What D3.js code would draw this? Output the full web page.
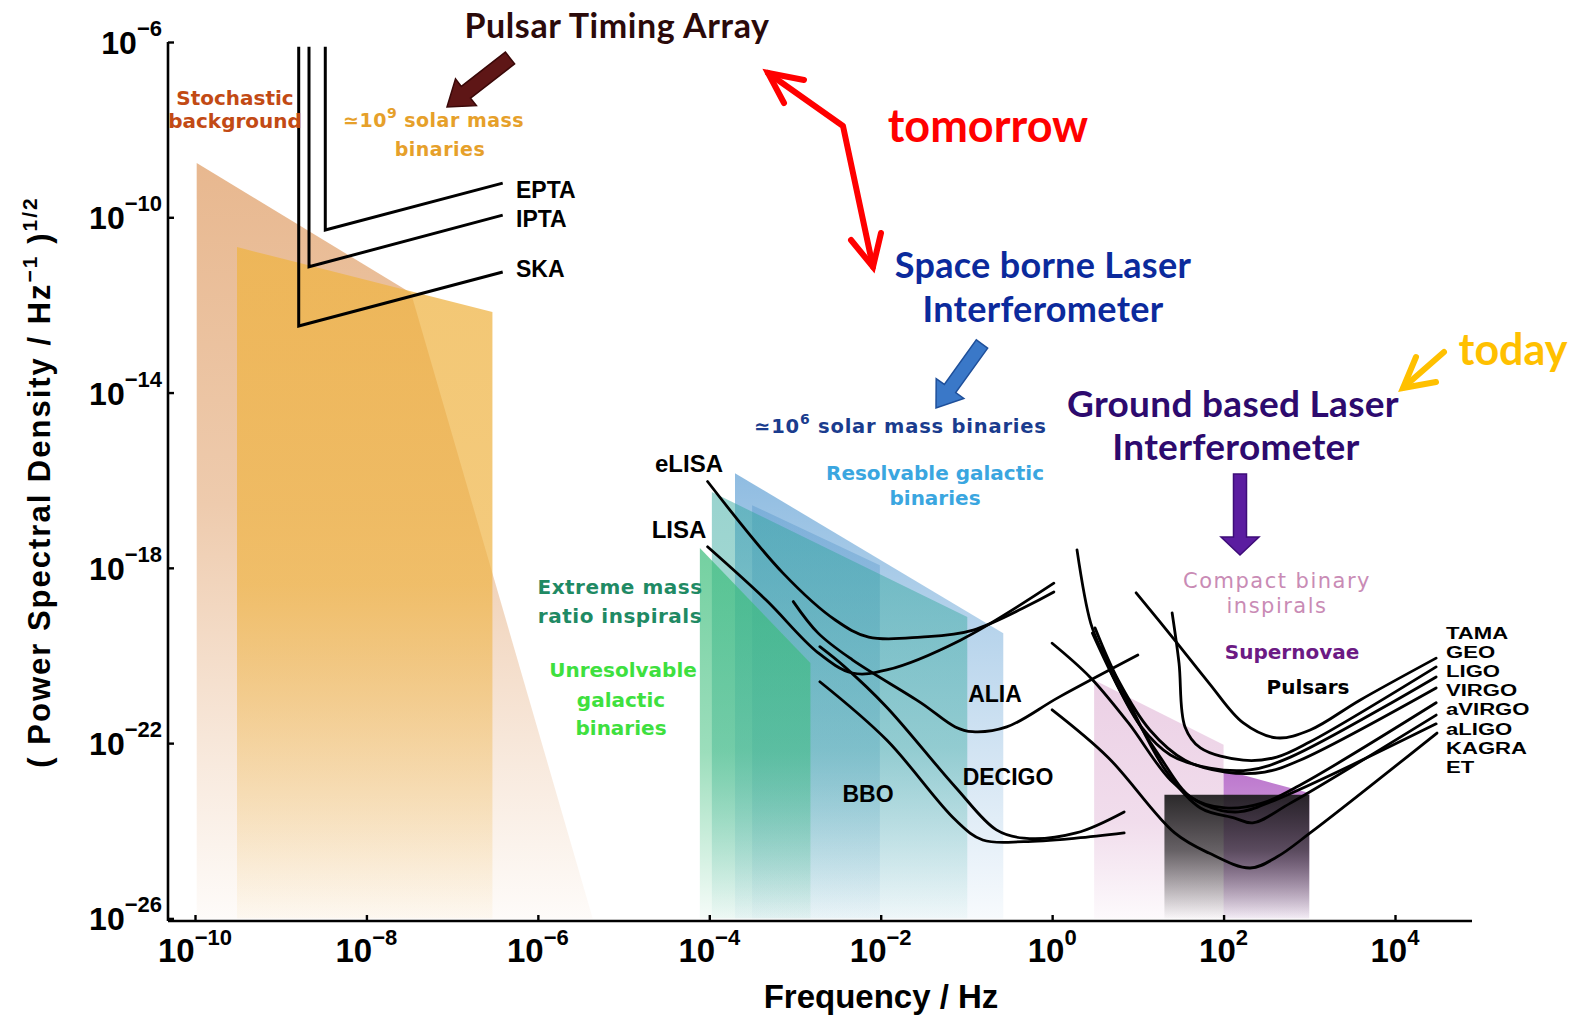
<!DOCTYPE html>
<html>
<head>
<meta charset="utf-8">
<script src="https://cdn.jsdelivr.net/npm/d3@7"></script>
<style>
  html, body { margin: 0; padding: 0; background: #fff; }
  svg { display: block; }
</style>
</head>
<body>
<svg id="chart" width="1579" height="1018"></svg>
<script>
// All values are powers of ten: [log10 frequency (Hz), log10 strain amplitude]
const xTickExps = [-10, -8, -6, -4, -2, 0, 2, 4];
const yTickExps = [-6, -10, -14, -18, -22, -26];

// Source bands
const stochasticBand  = [[-9.98, -8.76], [-7.48, -11.73], [-5.36, -26], [-9.98, -26]];
const smbhBand        = [[-9.51, -10.68], [-6.53, -12.16], [-6.53, -26], [-9.51, -26]];
const resolvableBandA = [[-3.70, -15.84], [-0.57, -19.49], [-0.57, -26], [-3.70, -26]];
const resolvableBandB = [[-3.50, -16.57], [-2.01, -17.94], [-2.01, -26], [-3.50, -26]];
const emriBand        = [[-3.97, -16.27], [-0.99, -19.12], [-0.99, -26], [-3.97, -26]];
const unresolvedBand  = [[-4.11, -17.55], [-2.82, -20.17], [-2.82, -26], [-4.11, -26]];
const compactBand     = [[0.49, -20.56], [2.00, -22.04], [2.00, -26], [0.49, -26]];
const supernovaBand   = [[2.00, -22.61], [3.00, -23.14], [3.00, -26], [2.00, -26]];
const pulsarBand      = [[1.31, -23.18], [3.00, -23.18], [3.00, -26], [1.31, -26]];

// Pulsar timing arrays
const eptaCurve = [[-8.48, -6.11], [-8.48, -10.29], [-6.41, -9.22]];
const iptaCurve = [[-8.67, -6.11], [-8.67, -11.13], [-6.41, -9.95]];
const skaCurve  = [[-8.79, -6.11], [-8.79, -12.48], [-6.41, -11.25]];

// Space interferometers
const elisaCurve  = [[-4.02, -16.03], [-3.14, -18.12], [-2.53, -19.19], [-2.14, -19.58], [-1.53, -19.58], [-0.92, -19.42], [0.02, -18.55]];
const lisaCurve   = [[-4.02, -17.52], [-3.34, -18.73], [-2.73, -19.94], [-2.33, -20.40], [-1.93, -20.33], [-1.07, -19.65], [0.02, -18.35]];
const aliaCurve   = [[-3.02, -18.77], [-2.73, -19.49], [-2.33, -20.10], [-1.53, -21.08], [-1.13, -21.63], [-0.93, -21.74], [-0.53, -21.63], [0.08, -20.95], [1.00, -19.99]];
const decigoCurve = [[-2.71, -19.80], [-2.42, -20.26], [-1.93, -21.18], [-1.13, -23.00], [-0.65, -23.98], [-0.33, -24.17], [0.28, -24.05], [0.84, -23.57]];
const bboCurve    = [[-2.71, -20.60], [-1.93, -21.93], [-1.13, -23.75], [-0.81, -24.21], [-0.33, -24.25], [0.28, -24.17], [0.84, -24.05]];

// Ground interferometers
const tamaCurve   = [[0.98, -18.57], [1.43, -19.65], [1.83, -20.63], [2.23, -21.54], [2.62, -21.88], [3.01, -21.70], [3.59, -21.02], [4.48, -20.06]];
const geoCurve    = [[1.40, -19.03], [1.48, -20.17], [1.55, -21.63], [1.73, -22.11], [2.23, -22.39], [2.62, -22.32], [3.01, -21.97], [4.48, -20.26]];
const ligoCurve   = [[0.29, -17.59], [0.45, -19.26], [0.61, -20.03], [0.77, -20.72], [1.04, -21.63], [1.38, -22.27], [1.84, -22.57], [2.31, -22.61], [2.78, -22.32], [4.48, -20.49]];
const virgoCurve  = [[0.50, -19.37], [0.77, -20.56], [1.14, -21.70], [1.55, -22.39], [2.02, -22.66], [2.48, -22.66], [2.89, -22.39], [4.48, -20.74]];
const avirgoCurve = [[0.47, -19.49], [0.79, -20.79], [1.26, -22.32], [1.63, -23.25], [2.02, -23.48], [2.45, -23.37], [2.89, -22.96], [4.48, -21.08]];
const aligoCurve  = [[0.58, -19.83], [0.91, -21.13], [1.32, -22.61], [1.73, -23.48], [2.13, -23.71], [2.34, -23.82], [2.78, -23.37], [4.48, -21.36]];
const kagraCurve  = [[0.00, -19.72], [0.44, -20.49], [0.89, -21.54], [1.38, -22.84], [1.78, -23.41], [2.17, -23.57], [2.60, -23.30], [4.48, -21.56]];
const etCurve     = [[0.00, -21.24], [0.65, -22.32], [1.43, -24.05], [1.83, -24.51], [2.31, -24.85], [2.62, -24.60], [3.01, -24.05], [4.49, -21.77]];

const groundNames = ["TAMA", "GEO", "LIGO", "VIRGO", "aVIRGO", "aLIGO", "KAGRA", "ET"];

// ---------------------------------------------------------------------------
const svg = d3.select("#chart");
const defs = svg.append("defs");

const x = d3.scaleLog().domain([1e-10, 1e4]).range([195, 1395]);
const y = d3.scaleLog().domain([1e-26, 1e-6]).range([918.4, 42]);
const X = e => x(Math.pow(10, e));
const Y = e => y(Math.pow(10, e));

const CHART_FONT = "'Liberation Sans', Arial, Helvetica, sans-serif";
const ROUND_FONT = "'DejaVu Sans', Verdana, sans-serif";
const NOTE_FONT = "Lato, 'Open Sans', sans-serif";

const bandLayer = svg.append("g");
const axisLayer = svg.append("g");
const curveLayer = svg.append("g");
const textLayer = svg.append("g");
const arrowLayer = svg.append("g");

// Bands fade toward the bottom of the plot
function band(pts, id, color, stops) {
  const top = d3.min(pts, d => Y(d[1]));
  const grad = defs.append("linearGradient")
    .attr("id", id).attr("gradientUnits", "userSpaceOnUse")
    .attr("x1", 0).attr("x2", 0).attr("y1", top).attr("y2", Y(-26));
  stops.forEach(s => grad.append("stop")
    .attr("offset", s[0]).attr("stop-color", color).attr("stop-opacity", s[1]));
  bandLayer.append("path")
    .attr("d", d3.line().x(d => X(d[0])).y(d => Y(d[1]))(pts) + "Z")
    .attr("fill", `url(#${id})`);
}

band(stochasticBand, "gStoch", "#e0a06a", [[0, 0.75], [0.45, 0.55], [0.8, 0.22], [1, 0.04]]);
band(smbhBand, "gSmbh", "#efb445", [[0, 0.75], [0.5, 0.7], [0.85, 0.25], [1, 0.05]]);
band(resolvableBandA, "gResA", "#5f9fd4", [[0, 0.7], [0.35, 0.45], [1, 0.05]]);
band(resolvableBandB, "gResB", "#4a8ec6", [[0, 0.35], [0.6, 0.25], [1, 0.03]]);
band(emriBand, "gEmri", "#34a89e", [[0, 0.5], [0.6, 0.4], [1, 0.04]]);
band(unresolvedBand, "gUnres", "#38bc78", [[0, 0.7], [0.55, 0.5], [1, 0.05]]);
band(compactBand, "gComp", "#dcaad0", [[0, 0.55], [0.6, 0.4], [1, 0.06]]);
band(supernovaBand, "gSn", "#a548bc", [[0, 0.75], [0.6, 0.45], [1, 0.08]]);
band(pulsarBand, "gPsr", "#1a1a1a", [[0, 0.92], [0.45, 0.65], [1, 0.02]]);

// Axes
const xAxisY = 921, yAxisX = 168;
axisLayer.append("line").attr("x1", yAxisX).attr("x2", 1472).attr("y1", xAxisY).attr("y2", xAxisY)
  .attr("stroke", "#000").attr("stroke-width", 2.6);
axisLayer.append("line").attr("x1", yAxisX).attr("x2", yAxisX).attr("y1", 42).attr("y2", xAxisY)
  .attr("stroke", "#000").attr("stroke-width", 2.6);

const xAxis = d3.axisBottom(x).tickValues(xTickExps.map(e => Math.pow(10, e)))
  .tickSize(-6).tickSizeOuter(0).tickFormat("");
const xg = axisLayer.append("g").attr("transform", `translate(0,${xAxisY})`).call(xAxis);
xg.select(".domain").remove();
xg.selectAll(".tick line").attr("stroke", "#000").attr("stroke-width", 2.4);

const yAxis = d3.axisLeft(y).tickValues(yTickExps.map(e => Math.pow(10, e)))
  .tickSize(-6).tickSizeOuter(0).tickFormat("");
const yg = axisLayer.append("g").attr("transform", `translate(${yAxisX},0)`).call(yAxis);
yg.select(".domain").remove();
yg.selectAll(".tick line").attr("stroke", "#000").attr("stroke-width", 2.4);

const expText = e => (e < 0 ? "\u2212" + (-e) : String(e));

xTickExps.forEach(e => {
  const t = axisLayer.append("text").attr("x", X(e)).attr("y", 962)
    .attr("text-anchor", "middle").attr("font-family", CHART_FONT)
    .attr("font-weight", "bold").attr("fill", "#000");
  t.append("tspan").attr("font-size", 33).text("10");
  t.append("tspan").attr("font-size", 22).attr("dy", -17).text(expText(e));
});
yTickExps.forEach(e => {
  const t = axisLayer.append("text").attr("x", 162).attr("y", Y(e) + 12)
    .attr("text-anchor", "end").attr("font-family", CHART_FONT)
    .attr("font-weight", "bold").attr("fill", "#000");
  t.append("tspan").attr("font-size", 32).text("10");
  t.append("tspan").attr("font-size", 22).attr("dy", -18).text(expText(e));
});

// Axis titles
axisLayer.append("text").attr("x", 881).attr("y", 1008).attr("text-anchor", "middle")
  .attr("font-family", CHART_FONT).attr("font-weight", "bold").attr("font-size", 33)
  .text("Frequency / Hz");

const yTitle = axisLayer.append("text")
  .attr("transform", "translate(50,482) rotate(-90)")
  .attr("text-anchor", "middle").attr("font-family", CHART_FONT)
  .attr("font-weight", "bold").attr("font-size", 31).attr("letter-spacing", 2);
yTitle.append("tspan").text("( Power Spectral Density / Hz");
yTitle.append("tspan").attr("font-size", 21).attr("dy", -13).text("\u22121");
yTitle.append("tspan").attr("dy", 13).text(" )");
yTitle.append("tspan").attr("font-size", 21).attr("dy", -13).text("1/2");

// Sensitivity curves
const polyline = d3.line().x(d => X(d[0])).y(d => Y(d[1]));
const smooth = d3.line().x(d => X(d[0])).y(d => Y(d[1])).curve(d3.curveCatmullRom.alpha(0.5));

[eptaCurve, iptaCurve, skaCurve].forEach(c =>
  curveLayer.append("path").attr("d", polyline(c)).attr("fill", "none")
    .attr("stroke", "#000").attr("stroke-width", 3).attr("stroke-linejoin", "miter"));

[elisaCurve, lisaCurve, aliaCurve, decigoCurve, bboCurve,
 tamaCurve, geoCurve, ligoCurve, virgoCurve, avirgoCurve, aligoCurve, kagraCurve, etCurve]
  .forEach(c => curveLayer.append("path").attr("d", smooth(c)).attr("fill", "none")
    .attr("stroke", "#000").attr("stroke-width", 2.8).attr("stroke-linecap", "round"));

// Text labels
function label(s, px, py, o) {
  const t = textLayer.append("text").attr("x", px).attr("y", py)
    .attr("text-anchor", o.anchor || "middle")
    .attr("font-family", o.font || CHART_FONT)
    .attr("font-weight", o.weight || "bold")
    .attr("font-size", o.size)
    .attr("fill", o.fill || "#000");
  if (o.spacing) t.attr("letter-spacing", o.spacing);
  t.text(s);
  return t;
}

label("Pulsar Timing Array", 617, 38, { font: NOTE_FONT, size: 34, fill: "#2b0a0a", spacing: 0.6 });
label("tomorrow", 988, 142, { font: NOTE_FONT, size: 45, fill: "#ff0000" });
label("Space borne Laser", 1043, 278, { font: NOTE_FONT, size: 36, fill: "#0b2a9c", spacing: 0.3 });
label("Interferometer", 1043, 322, { font: NOTE_FONT, size: 36, fill: "#0b2a9c", spacing: 0.3 });
label("today", 1513, 365, { font: NOTE_FONT, size: 43, fill: "#ffc000" });
label("Ground based Laser", 1233, 417, { font: NOTE_FONT, size: 37, fill: "#2d0a6e", spacing: 0.3 });
label("Interferometer", 1236, 460, { font: NOTE_FONT, size: 37, fill: "#2d0a6e", spacing: 0.3 });

label("Stochastic", 235, 105, { font: ROUND_FONT, size: 20, fill: "#c24a14" });
label("background", 235, 128, { font: ROUND_FONT, size: 20, fill: "#c24a14" });
const smbhNote = label("\u224310", 343, 127, { anchor: "start", font: ROUND_FONT, size: 19, fill: "#e6a02a", spacing: 0.5 });
smbhNote.append("tspan").attr("font-size", 14).attr("dy", -9).text("9");
smbhNote.append("tspan").attr("dy", 9).text(" solar mass");
label("binaries", 440, 156, { font: ROUND_FONT, size: 19, fill: "#e6a02a", spacing: 0.5 });

label("EPTA", 516, 198, { anchor: "start", size: 23 });
label("IPTA", 516, 227, { anchor: "start", size: 23 });
label("SKA", 516, 277, { anchor: "start", size: 23 });

const lisaNote = label("\u224310", 754, 433, { anchor: "start", font: ROUND_FONT, size: 19.5, fill: "#1a3c8e", spacing: 0.8 });
lisaNote.append("tspan").attr("font-size", 14).attr("dy", -9).text("6");
lisaNote.append("tspan").attr("dy", 9).text(" solar mass binaries");
label("Resolvable galactic", 935, 480, { font: ROUND_FONT, size: 20, fill: "#3aa6e0" });
label("binaries", 935, 505, { font: ROUND_FONT, size: 20, fill: "#3aa6e0" });
label("eLISA", 689, 472, { size: 24 });
label("LISA", 679, 538, { size: 24 });
label("Extreme mass", 620, 594, { font: ROUND_FONT, size: 20, fill: "#1f8a64", spacing: 0.5 });
label("ratio inspirals", 620, 623, { font: ROUND_FONT, size: 20, fill: "#1f8a64", spacing: 0.5 });
label("Unresolvable", 623, 677, { font: ROUND_FONT, size: 20, fill: "#3ee03e" });
label("galactic", 621, 707, { font: ROUND_FONT, size: 20, fill: "#3ee03e" });
label("binaries", 621, 735, { font: ROUND_FONT, size: 20, fill: "#3ee03e" });
label("ALIA", 995, 702, { size: 23 });
label("DECIGO", 1008, 785, { size: 23 });
label("BBO", 868, 802, { size: 23 });

label("Compact binary", 1277, 588, { font: ROUND_FONT, weight: "normal", size: 21, fill: "#c98bb5", spacing: 1.5 });
label("inspirals", 1277, 613, { font: ROUND_FONT, weight: "normal", size: 21, fill: "#c98bb5", spacing: 1.5 });
label("Supernovae", 1292, 659, { font: ROUND_FONT, size: 20, fill: "#6c1a84" });
label("Pulsars", 1308, 694, { font: ROUND_FONT, size: 20, fill: "#000" });

// Detector names stacked tightly beside the curve ends (wide, short lettering)
groundNames.forEach((n, i) => textLayer.append("text")
  .attr("transform", `translate(1446,${639 + i * 19.1}) scale(1.3,1)`)
  .attr("font-family", CHART_FONT).attr("font-weight", "bold")
  .attr("font-size", 17).attr("fill", "#000").text(n));

// Arrows
function blockArrow(x1, y1, x2, y2, sw, hw, hl, fill, stroke) {
  const L = Math.hypot(x2 - x1, y2 - y1);
  const ang = Math.atan2(y2 - y1, x2 - x1) * 180 / Math.PI;
  const p = d3.path();
  p.moveTo(0, -sw / 2); p.lineTo(L - hl, -sw / 2); p.lineTo(L - hl, -hw / 2);
  p.lineTo(L, 0); p.lineTo(L - hl, hw / 2); p.lineTo(L - hl, sw / 2);
  p.lineTo(0, sw / 2); p.closePath();
  arrowLayer.append("path").attr("d", p.toString())
    .attr("transform", `translate(${x1},${y1}) rotate(${ang})`)
    .attr("fill", fill).attr("stroke", stroke).attr("stroke-width", 1.5)
    .attr("stroke-linejoin", "miter");
}
blockArrow(510, 58, 447, 107, 15, 34, 24, "#5e1616", "#3a0808");
blockArrow(982, 344, 936, 408, 14, 34, 24, "#3a78c8", "#1e4f9a");
blockArrow(1240, 474, 1240, 555, 13, 38, 18, "#5b1ca0", "#3e0c78");

function lineArrow(pts, heads, color, w) {
  arrowLayer.append("path").attr("d", d3.line()(pts)).attr("fill", "none")
    .attr("stroke", color).attr("stroke-width", w)
    .attr("stroke-linecap", "round").attr("stroke-linejoin", "round");
  heads.forEach(h => arrowLayer.append("path").attr("d", d3.line()(h)).attr("fill", "none")
    .attr("stroke", color).attr("stroke-width", w)
    .attr("stroke-linecap", "round").attr("stroke-linejoin", "miter"));
}
lineArrow([[768, 73], [843, 126], [873, 267]],
  [[[804, 80], [768, 73], [784, 103]], [[851, 240], [873, 267], [881, 233]]], "#ff0000", 6);
lineArrow([[1444, 352], [1404, 387]],
  [[[1436, 382], [1403, 388], [1416, 357]]], "#ffc000", 6);
</script>
</body>
</html>
